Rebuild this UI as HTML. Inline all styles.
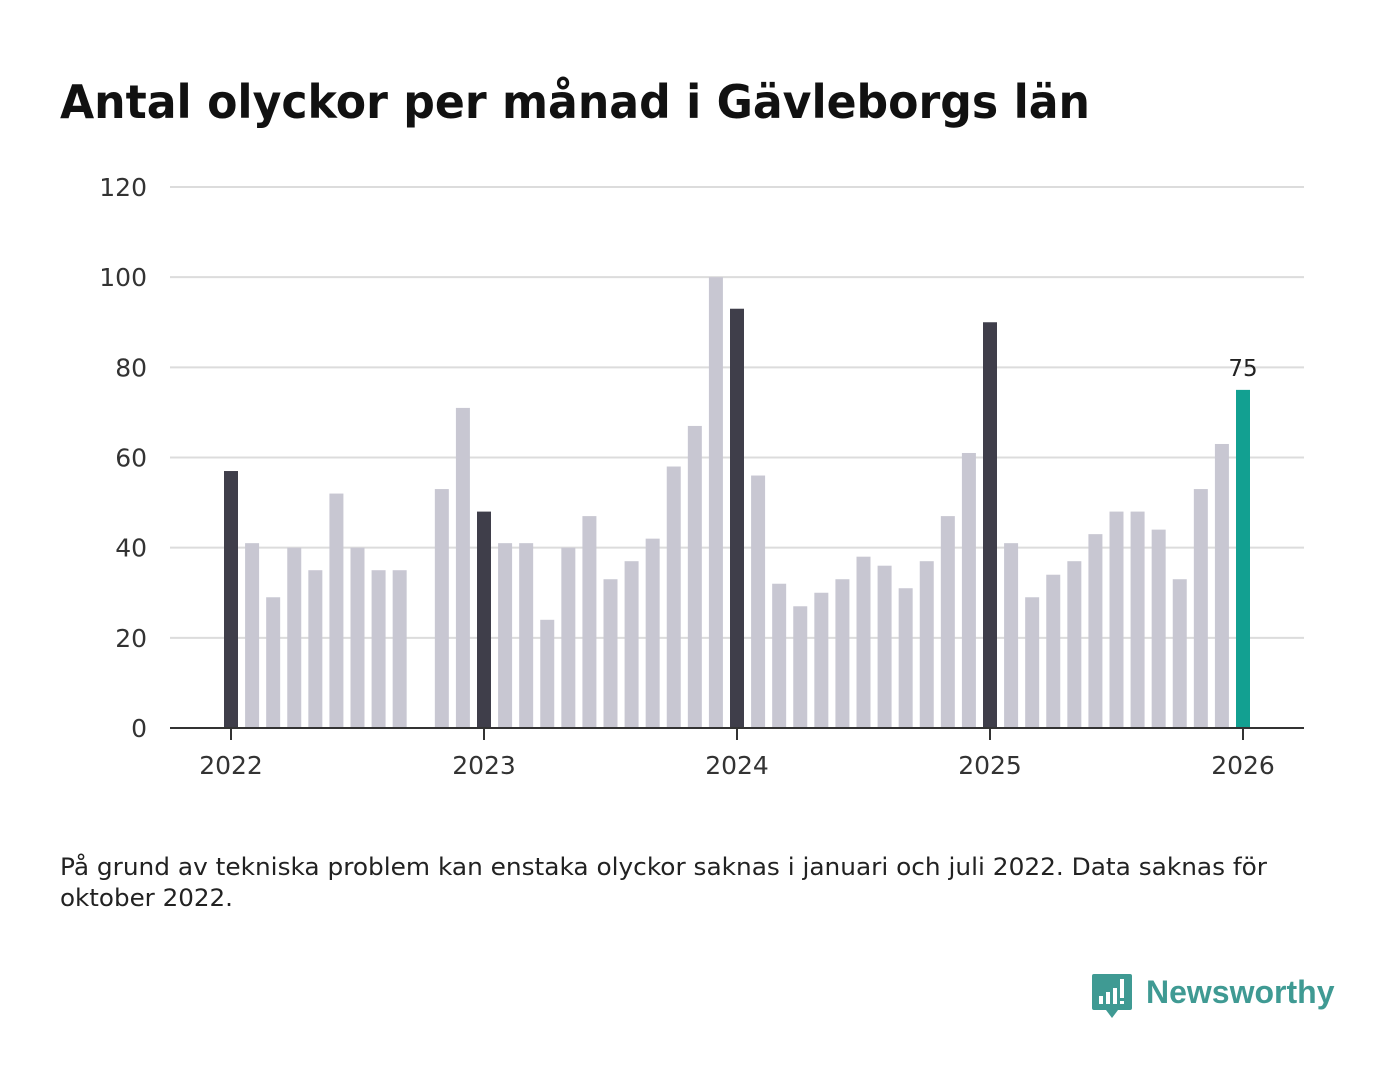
<!DOCTYPE html>
<html><head><meta charset="utf-8"><style>
body{margin:0;background:#fff;width:1400px;height:1080px;overflow:hidden;font-family:"DejaVu Sans","Liberation Sans",sans-serif;}
</style></head><body>
<svg width="1400" height="1080" xmlns="http://www.w3.org/2000/svg">
<text x="60" y="118" font-size="46" font-weight="bold" fill="#111" textLength="1030" lengthAdjust="spacingAndGlyphs" font-family="DejaVu Sans, Liberation Sans, sans-serif">Antal olyckor per månad i Gävleborgs län</text>
<g id="grid"></g>
<g id="bars"></g>
<g id="axes"></g>
<text x="60" y="875" font-size="24" fill="#222" textLength="1207" lengthAdjust="spacingAndGlyphs">På grund av tekniska problem kan enstaka olyckor saknas i januari och juli 2022. Data saknas för</text>
<text x="60" y="906" font-size="24" fill="#222" textLength="173" lengthAdjust="spacingAndGlyphs">oktober 2022.</text>
<g>
<path d="M1094 974 h36 a2 2 0 0 1 2 2 v32 a2 2 0 0 1 -2 2 h-12 l-6 8 l-6 -8 h-12 a2 2 0 0 1 -2 -2 v-32 a2 2 0 0 1 2 -2z" fill="#3f9a93"/>
<rect x="1099" y="996" width="4" height="8" fill="#fff"/>
<rect x="1106" y="992" width="4" height="12" fill="#fff"/>
<rect x="1113" y="988" width="4" height="16" fill="#fff"/>
<rect x="1120" y="979" width="4" height="19" fill="#fff"/>
<rect x="1120" y="1001" width="4" height="3" fill="#fff"/>
<text x="1146" y="1003" font-size="32" font-weight="bold" fill="#3f9a93" font-family="Liberation Sans, sans-serif">Newsworthy</text>
</g>
</svg>
<script>
const months = [];
for (let y = 2022; y <= 2025; y++) for (let m = 1; m <= 12; m++) months.push(y + '-' + m);
months.push('2026-1');
const values = [57,41,29,40,35,52,40,35,35,null,53,71,
48,41,41,24,40,47,33,37,42,58,67,100,
93,56,32,27,30,33,38,36,31,37,47,61,
90,41,29,34,37,43,48,48,44,33,53,63,
75];
const yTicks = [0,20,40,60,80,100,120];
const yearLabels = ['2022','2023','2024','2025','2026'];

const NS = 'http://www.w3.org/2000/svg';
const x = i => 231 + i * (1243 - 231) / 48;
const y = v => 728 - v * (728 - 187) / 120;
function mk(tag, attrs, parent){const e=document.createElementNS(NS,tag);for(const k in attrs)e.setAttribute(k,attrs[k]);parent.appendChild(e);return e;}
const grid=document.getElementById('grid'), bars=document.getElementById('bars'), axes=document.getElementById('axes');
yTicks.forEach(t=>{
  if(t>0){const l=mk('line',{x1:170,x2:1304,y1:y(t),y2:y(t),stroke:'#dcdcdc','stroke-width':2},grid);
  
  }
  const tx=mk('text',{x:147,y:y(t)+9,'font-size':25,fill:'#333','text-anchor':'end'},axes);
  tx.textContent=t;
  
  
});
values.forEach((v,i)=>{
  if(v===null)return;
  const isJan = i%12===0, last = i===values.length-1;
  const r=mk('rect',{x:x(i)-7,y:y(v),width:14,height:y(0)-y(v),fill:last?'#12a091':(isJan?'#3f3e4a':'#c8c7d2')},bars);
  
  
  if(last){const t=mk('text',{x:x(i),y:y(v)-14,'font-size':23,fill:'#222','text-anchor':'middle'},bars);
    t.textContent=v;
    
    }
});
const base=mk('line',{x1:170,x2:1304,y1:728,y2:728,stroke:'#333','stroke-width':2},axes);


yearLabels.forEach((lab,k)=>{
  const xi=x(k*12);
  const tk=mk('line',{x1:xi,x2:xi,y1:728,y2:740,stroke:'#333','stroke-width':2},axes);
  
  
  const t=mk('text',{x:xi,y:774,'font-size':25,fill:'#333','text-anchor':'middle'},axes);
  t.textContent=lab;
  
  
});
</script>
</body></html>
